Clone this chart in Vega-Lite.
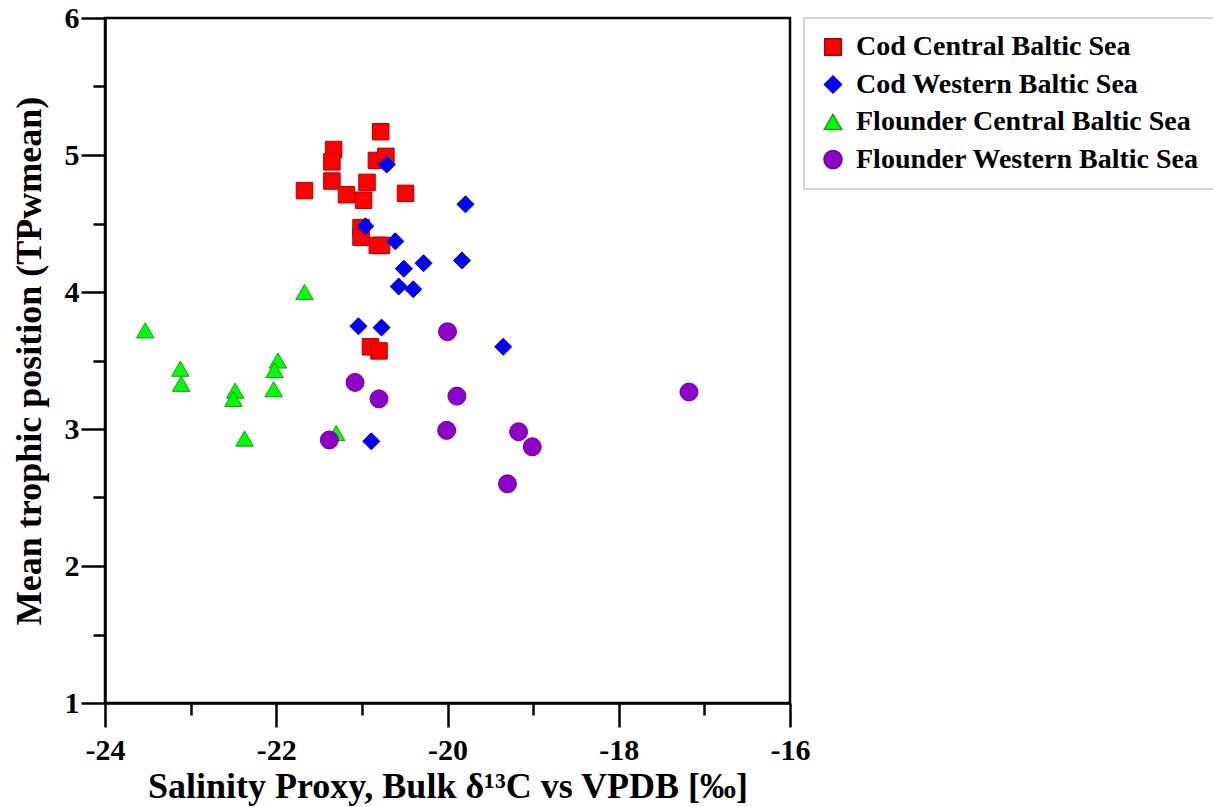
{
  "$schema": "https://vega.github.io/schema/vega-lite/v6.json",
  "width": 685,
  "height": 685,
  "autosize": "none",
  "padding": {"left": 105, "top": 18, "right": 423, "bottom": 104},
  "background": "white",
  "data": {
    "values": [
      {"group": "Cod Central Baltic Sea", "d13C": -21.67, "tp": 4.74},
      {"group": "Cod Central Baltic Sea", "d13C": -21.33, "tp": 5.04},
      {"group": "Cod Central Baltic Sea", "d13C": -21.35, "tp": 4.95},
      {"group": "Cod Central Baltic Sea", "d13C": -21.35, "tp": 4.81},
      {"group": "Cod Central Baltic Sea", "d13C": -21.18, "tp": 4.71},
      {"group": "Cod Central Baltic Sea", "d13C": -20.94, "tp": 4.80},
      {"group": "Cod Central Baltic Sea", "d13C": -20.98, "tp": 4.67},
      {"group": "Cod Central Baltic Sea", "d13C": -20.78, "tp": 5.17},
      {"group": "Cod Central Baltic Sea", "d13C": -20.83, "tp": 4.96},
      {"group": "Cod Central Baltic Sea", "d13C": -20.72, "tp": 4.99},
      {"group": "Cod Central Baltic Sea", "d13C": -20.49, "tp": 4.72},
      {"group": "Cod Central Baltic Sea", "d13C": -21.01, "tp": 4.47},
      {"group": "Cod Central Baltic Sea", "d13C": -21.01, "tp": 4.40},
      {"group": "Cod Central Baltic Sea", "d13C": -20.82, "tp": 4.34},
      {"group": "Cod Central Baltic Sea", "d13C": -20.77, "tp": 4.34},
      {"group": "Cod Central Baltic Sea", "d13C": -20.90, "tp": 3.60},
      {"group": "Cod Central Baltic Sea", "d13C": -20.80, "tp": 3.57},
      {"group": "Cod Western Baltic Sea", "d13C": -20.71, "tp": 4.93},
      {"group": "Cod Western Baltic Sea", "d13C": -19.79, "tp": 4.64},
      {"group": "Cod Western Baltic Sea", "d13C": -20.96, "tp": 4.48},
      {"group": "Cod Western Baltic Sea", "d13C": -20.61, "tp": 4.37},
      {"group": "Cod Western Baltic Sea", "d13C": -20.51, "tp": 4.17},
      {"group": "Cod Western Baltic Sea", "d13C": -20.28, "tp": 4.21},
      {"group": "Cod Western Baltic Sea", "d13C": -19.83, "tp": 4.23},
      {"group": "Cod Western Baltic Sea", "d13C": -20.57, "tp": 4.04},
      {"group": "Cod Western Baltic Sea", "d13C": -20.40, "tp": 4.02},
      {"group": "Cod Western Baltic Sea", "d13C": -21.04, "tp": 3.75},
      {"group": "Cod Western Baltic Sea", "d13C": -20.77, "tp": 3.74},
      {"group": "Cod Western Baltic Sea", "d13C": -20.89, "tp": 2.91},
      {"group": "Cod Western Baltic Sea", "d13C": -19.35, "tp": 3.60},
      {"group": "Flounder Central Baltic Sea", "d13C": -23.53, "tp": 3.72},
      {"group": "Flounder Central Baltic Sea", "d13C": -21.67, "tp": 4.00},
      {"group": "Flounder Central Baltic Sea", "d13C": -23.12, "tp": 3.44},
      {"group": "Flounder Central Baltic Sea", "d13C": -23.11, "tp": 3.33},
      {"group": "Flounder Central Baltic Sea", "d13C": -22.48, "tp": 3.28},
      {"group": "Flounder Central Baltic Sea", "d13C": -22.50, "tp": 3.22},
      {"group": "Flounder Central Baltic Sea", "d13C": -21.98, "tp": 3.50},
      {"group": "Flounder Central Baltic Sea", "d13C": -22.02, "tp": 3.43},
      {"group": "Flounder Central Baltic Sea", "d13C": -22.03, "tp": 3.29},
      {"group": "Flounder Central Baltic Sea", "d13C": -22.37, "tp": 2.93},
      {"group": "Flounder Central Baltic Sea", "d13C": -21.30, "tp": 2.97},
      {"group": "Flounder Western Baltic Sea", "d13C": -20.00, "tp": 3.71},
      {"group": "Flounder Western Baltic Sea", "d13C": -21.08, "tp": 3.34},
      {"group": "Flounder Western Baltic Sea", "d13C": -20.80, "tp": 3.22},
      {"group": "Flounder Western Baltic Sea", "d13C": -19.89, "tp": 3.24},
      {"group": "Flounder Western Baltic Sea", "d13C": -21.38, "tp": 2.92},
      {"group": "Flounder Western Baltic Sea", "d13C": -20.01, "tp": 2.99},
      {"group": "Flounder Western Baltic Sea", "d13C": -19.17, "tp": 2.98},
      {"group": "Flounder Western Baltic Sea", "d13C": -19.01, "tp": 2.87},
      {"group": "Flounder Western Baltic Sea", "d13C": -19.30, "tp": 2.60},
      {"group": "Flounder Western Baltic Sea", "d13C": -17.18, "tp": 3.27}
    ]
  },
  "layer": [
    {
      "mark": {"type": "point", "filled": true, "opacity": 1, "strokeWidth": 1},
      "encoding": {
        "x": {
          "field": "d13C",
          "type": "quantitative",
          "scale": {"domain": [-24, -16], "nice": false, "zero": false},
          "axis": {
            "orient": "bottom",
            "values": [-24, -22, -20, -18, -16],
            "labelExpr": "toString(datum.value)",
            "labelFontSize": 30,
            "labelPadding": 8,
            "title": "Salinity Proxy, Bulk δ¹³C vs VPDB [‰]",
            "titleFontSize": 36,
            "titlePadding": 4
          }
        },
        "y": {
          "field": "tp",
          "type": "quantitative",
          "scale": {"domain": [1, 6], "nice": false, "zero": false},
          "axis": {
            "orient": "left",
            "values": [1, 2, 3, 4, 5, 6],
            "labelFontSize": 30,
            "labelPadding": 2,
            "title": "Mean trophic position (TPwmean)",
            "titleFontSize": 36,
            "titlePadding": 16
          }
        },
        "fill": {
          "field": "group",
          "type": "nominal",
          "title": null,
          "scale": {
            "domain": ["Cod Central Baltic Sea", "Cod Western Baltic Sea", "Flounder Central Baltic Sea", "Flounder Western Baltic Sea"],
            "range": ["#ff0000", "#0000ff", "#00ff00", "#8e00c8"]
          }
        },
        "stroke": {
          "field": "group",
          "type": "nominal",
          "title": null,
          "scale": {
            "domain": ["Cod Central Baltic Sea", "Cod Western Baltic Sea", "Flounder Central Baltic Sea", "Flounder Western Baltic Sea"],
            "range": ["#b00000", "#0000c8", "#1a9a1a", "#7000a0"]
          }
        },
        "shape": {
          "field": "group",
          "type": "nominal",
          "title": null,
          "scale": {
            "domain": ["Cod Central Baltic Sea", "Cod Western Baltic Sea", "Flounder Central Baltic Sea", "Flounder Western Baltic Sea"],
            "range": ["square", "diamond", "triangle-up", "circle"]
          }
        },
        "size": {
          "field": "group",
          "type": "nominal",
          "title": null,
          "scale": {
            "domain": ["Cod Central Baltic Sea", "Cod Western Baltic Sea", "Flounder Central Baltic Sea", "Flounder Western Baltic Sea"],
            "range": [272, 324, 361, 289]
          }
        }
      }
    },
    {
      "mark": {"type": "point", "opacity": 0},
      "encoding": {
        "x": {
          "field": "d13C",
          "type": "quantitative",
          "axis": {
            "orient": "bottom",
            "values": [-23, -21, -19, -17],
            "tickSize": 12,
            "labels": false,
            "domain": false,
            "title": null
          }
        },
        "y": {
          "field": "tp",
          "type": "quantitative",
          "axis": {
            "orient": "left",
            "values": [1.5, 2.5, 3.5, 4.5, 5.5],
            "tickSize": 12,
            "labels": false,
            "domain": false,
            "title": null
          }
        }
      }
    }
  ],
  "resolve": {"axis": {"x": "independent", "y": "independent"}},
  "config": {
    "view": {"stroke": "black", "strokeWidth": 2.5},
    "axis": {
      "grid": false,
      "domainColor": "black",
      "domainWidth": 2.5,
      "tickColor": "black",
      "tickWidth": 2.5,
      "tickSize": 24,
      "labelFont": "Liberation Serif",
      "labelFontWeight": "bold",
      "labelColor": "black",
      "labelFlush": false,
      "labelOverlap": false,
      "titleFont": "Liberation Serif",
      "titleFontWeight": "bold",
      "titleColor": "black"
    },
    "legend": {
      "orient": "none",
      "legendX": 699,
      "legendY": 0,
      "padding": 15,
      "rowPadding": 9.5,
      "labelFont": "Liberation Serif",
      "labelFontWeight": "bold",
      "labelFontSize": 28,
      "labelColor": "black",
      "labelOffset": 9,
      "labelLimit": 600,
      "strokeColor": "#c8c8c8",
      "strokeWidth": 1.5,
      "fillColor": "white"
    }
  }
}
